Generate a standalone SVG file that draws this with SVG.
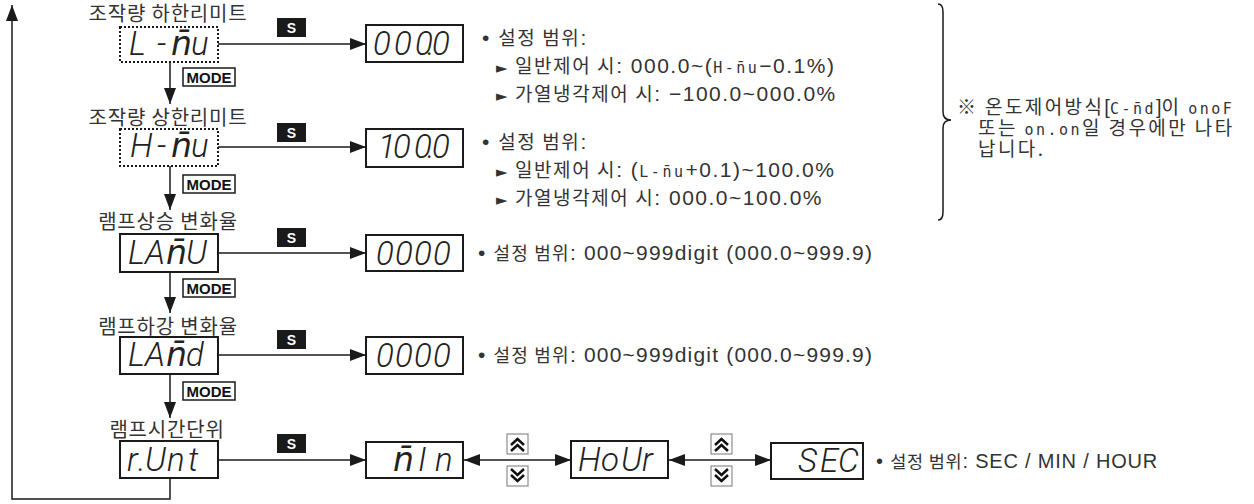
<svg xmlns="http://www.w3.org/2000/svg" width="1254" height="504" viewBox="0 0 1254 504">
<defs>
<marker id="ah" viewBox="0 0 16 12" refX="16" refY="6" markerWidth="16" markerHeight="12" markerUnits="userSpaceOnUse" orient="auto-start-reverse"><path d="M0,0 L16,6 L0,12 z" fill="#1a1a1a"/></marker>
</defs>
<style>
.ln{fill:none;stroke:#1a1a1a;stroke-width:1.5}
.box{fill:#fff;stroke:#1a1a1a;stroke-width:2}
.dot{fill:#fff;stroke:#1a1a1a;stroke-width:2;stroke-dasharray:2 2}
.lab{font-family:"Noto Sans CJK KR",sans-serif;font-size:20px;letter-spacing:0.8px;fill:#333;text-anchor:middle}
.seg{font-family:Roboto,"DejaVu Sans",sans-serif;font-style:italic;font-weight:300;font-size:33px;fill:#222}
.sbg{fill:#1a1a1a}
.st{font-family:"Liberation Sans",sans-serif;font-weight:bold;font-size:14px;fill:#fff;text-anchor:middle}
.mb{fill:#fff;stroke:#1a1a1a;stroke-width:1.5}
.mt{font-family:"Liberation Sans",sans-serif;font-weight:bold;font-size:15px;fill:#111;text-anchor:middle}
.d{font-family:"Liberation Sans","Noto Sans CJK KR",sans-serif;font-size:21px;letter-spacing:1.5px;fill:#333}
.d3{font-family:"Liberation Sans","Noto Sans CJK KR",sans-serif;font-size:21px;letter-spacing:1.2px;fill:#333}
.k{font-family:"Noto Sans CJK KR",sans-serif;font-size:19px;letter-spacing:1.6px}
.k3{font-family:"Noto Sans CJK KR",sans-serif;font-size:18px;letter-spacing:1.2px}
.db{font-family:"Liberation Sans","Noto Sans CJK KR",sans-serif;font-size:20px;letter-spacing:0.8px;fill:#333}
.kb{font-family:"Noto Sans CJK KR",sans-serif;font-size:17.5px;letter-spacing:0.8px}
.dn{font-family:"Liberation Sans","Noto Sans CJK KR",sans-serif;font-size:20px;fill:#333}
.kn{font-family:"Noto Sans CJK KR",sans-serif;font-size:19px;letter-spacing:2.4px}
.ss{font-family:"DejaVu Sans Mono",monospace;font-size:15px;letter-spacing:2.5px}
.btn{fill:#fff;stroke:#777;stroke-width:1}
.chev{fill:none;stroke:#111;stroke-width:2.5}
.ar{font-family:"DejaVu Sans",sans-serif;font-size:15px;letter-spacing:0}
</style>

<g id="connectors">
<path class="ln" d="M170,478 V499 H12 V5" marker-end="url(#ah)"/>
<line class="ln" x1="170" y1="62" x2="170" y2="104" marker-end="url(#ah)"/>
<line class="ln" x1="170" y1="166" x2="170" y2="210" marker-end="url(#ah)"/>
<line class="ln" x1="170" y1="272" x2="170" y2="313" marker-end="url(#ah)"/>
<line class="ln" x1="170" y1="374" x2="170" y2="418" marker-end="url(#ah)"/>
<line class="ln" x1="218" y1="44" x2="366" y2="44" marker-end="url(#ah)"/>
<line class="ln" x1="218" y1="147" x2="366" y2="147" marker-end="url(#ah)"/>
<line class="ln" x1="218" y1="253" x2="366" y2="253" marker-end="url(#ah)"/>
<line class="ln" x1="218" y1="355" x2="366" y2="355" marker-end="url(#ah)"/>
<line class="ln" x1="218" y1="460" x2="366" y2="460" marker-end="url(#ah)"/>
<line class="ln" x1="464" y1="460" x2="571" y2="460" marker-start="url(#ah)" marker-end="url(#ah)"/>
<line class="ln" x1="669" y1="460" x2="771" y2="460" marker-start="url(#ah)" marker-end="url(#ah)"/>
<g id="s-labels">
<rect class="sbg" x="277" y="18" width="29" height="19"/><text class="st" x="291.5" y="33">S</text>
<rect class="sbg" x="277" y="123" width="29" height="19"/><text class="st" x="291.5" y="138">S</text>
<rect class="sbg" x="277" y="228" width="29" height="19"/><text class="st" x="291.5" y="243">S</text>
<rect class="sbg" x="277" y="330" width="29" height="19"/><text class="st" x="291.5" y="345">S</text>
<rect class="sbg" x="277" y="434" width="29" height="19"/><text class="st" x="291.5" y="449">S</text>
</g>
<g id="mode-labels">
<rect class="mb" x="183" y="68" width="52" height="18"/><text class="mt" x="209" y="82.5">MODE</text>
<rect class="mb" x="183" y="175" width="52" height="18"/><text class="mt" x="209" y="189.5">MODE</text>
<rect class="mb" x="183" y="279" width="52" height="18"/><text class="mt" x="209" y="293.5">MODE</text>
<rect class="mb" x="183" y="382" width="52" height="18"/><text class="mt" x="209" y="396.5">MODE</text>
</g>
<g id="updown-1">
<rect class="btn" x="507" y="434" width="21" height="20"/>
<path class="chev" d="M511,445 L517.5,439 L524,445 M511,451 L517.5,445 L524,451"/>
<rect class="btn" x="507" y="466" width="21" height="20"/>
<path class="chev" d="M511,469 L517.5,475 L524,469 M511,475 L517.5,481 L524,475"/>
</g>
<g id="updown-2">
<rect class="btn" x="711" y="434" width="21" height="20"/>
<path class="chev" d="M715,445 L721.5,439 L728,445 M715,451 L721.5,445 L728,451"/>
<rect class="btn" x="711" y="466" width="21" height="20"/>
<path class="chev" d="M715,469 L721.5,475 L728,469 M715,475 L721.5,481 L728,475"/>
</g>
</g>

<g id="node-lmv">
<text class="lab" x="168" y="21">조작량 하한리미트</text>
<rect class="dot" x="120" y="27" width="98" height="35"/>
<text class="seg" y="55"><tspan x="129">L</tspan><tspan x="157">-</tspan><tspan x="171">n̄</tspan><tspan x="191">u</tspan></text>
</g>
<g id="node-hmv">
<text class="lab" x="168" y="125">조작량 상한리미트</text>
<rect class="dot" x="120" y="129" width="98" height="37"/>
<text class="seg" y="157"><tspan x="130">H</tspan><tspan x="157">-</tspan><tspan x="171">n̄</tspan><tspan x="191">u</tspan></text>
</g>
<g id="node-ramu">
<text class="lab" x="168" y="229">램프상승 변화율</text>
<rect class="box" x="120" y="234" width="98" height="38"/>
<text class="seg" y="264"><tspan x="128">L</tspan><tspan x="145">A</tspan><tspan x="166">n̄</tspan><tspan x="186">U</tspan></text>
</g>
<g id="node-ramd">
<text class="lab" x="168" y="334">램프하강 변화율</text>
<rect class="box" x="120" y="337" width="98" height="37"/>
<text class="seg" y="366"><tspan x="128">L</tspan><tspan x="145">A</tspan><tspan x="166">n̄</tspan><tspan x="186">d</tspan></text>
</g>
<g id="node-runt">
<text class="lab" x="167" y="437">램프시간단위</text>
<rect class="box" x="120" y="441" width="98" height="37"/>
<text class="seg" y="471" x="127 138 145 167 188">r.Unt</text>
</g>

<g id="disp-lmv">
<rect class="box" x="366" y="25" width="97" height="37"/>
<text class="seg" y="55" x="373 394 415 427 432">000.0</text>
</g>
<g id="disp-hmv">
<rect class="box" x="366" y="129" width="97" height="38"/>
<text class="seg" y="158" x="378 393 414 427 432">100.0</text>
</g>
<g id="disp-ramu">
<rect class="box" x="366" y="235" width="97" height="36"/>
<text class="seg" y="265" x="376 395 414 433">0000</text>
</g>
<g id="disp-ramd">
<rect class="box" x="366" y="337" width="97" height="37"/>
<text class="seg" y="367" x="376 395 414 433">0000</text>
</g>
<g id="disp-min">
<rect class="box" x="366" y="442" width="97" height="36"/>
<text class="seg" y="471"><tspan x="393">n̄</tspan><tspan x="418">I</tspan><tspan x="435">n</tspan></text>
</g>
<g id="disp-hour">
<rect class="box" x="571" y="441" width="97" height="37"/>
<text class="seg" y="471" x="578 601 621 642">HoUr</text>
</g>
<g id="disp-sec">
<rect class="box" x="771" y="443" width="92" height="36"/>
<text class="seg" y="472" x="798 820 838">SEC</text>
</g>

<g id="desc-lmv">
<text class="d" x="482" y="45">• <tspan class="k">설정 범위</tspan>:</text>
<text class="d" x="496" y="73"><tspan class="ar">►</tspan> <tspan class="k">일반제어 시</tspan>: 000.0~(<tspan class="ss">H-n̄u</tspan>−0.1%)</text>
<text class="d" x="496" y="101"><tspan class="ar">►</tspan> <tspan class="k">가열냉각제어 시</tspan>: −100.0~000.0%</text>
</g>
<g id="desc-hmv">
<text class="d" x="482" y="149">• <tspan class="k">설정 범위</tspan>:</text>
<text class="d" x="496" y="177"><tspan class="ar">►</tspan> <tspan class="k">일반제어 시</tspan>: (<tspan class="ss">L-n̄u</tspan>+0.1)~100.0%</text>
<text class="d" x="496" y="205"><tspan class="ar">►</tspan> <tspan class="k">가열냉각제어 시</tspan>: 000.0~100.0%</text>
</g>
<g id="desc-ramu">
<text class="d3" x="478" y="260">• <tspan class="k3">설정 범위</tspan>: 000~999digit (000.0~999.9)</text>
</g>
<g id="desc-ramd">
<text class="d3" x="478" y="362">• <tspan class="k3">설정 범위</tspan>: 000~999digit (000.0~999.9)</text>
</g>
<g id="desc-runt">
<text class="db" x="876" y="468">• <tspan class="kb">설정 범위</tspan>: SEC / MIN / HOUR</text>
</g>

<g id="note">
<path class="ln" d="M938,4 Q943,4 943,12 L943,112 Q943,120 951,120 Q943,120 943,128 L943,212 Q943,220 938,220"/>
<text class="dn" x="957" y="114"><tspan class="kn">※ 온도제어방식</tspan>[<tspan class="ss">C-n̄d</tspan>]<tspan class="kn">이 </tspan><tspan class="ss">onoF</tspan></text>
<text class="dn" x="978" y="135"><tspan class="kn">또는 </tspan><tspan class="ss">on.on</tspan><tspan class="kn">일 경우에만 나타</tspan></text>
<text class="dn" x="978" y="156"><tspan class="kn">납니다.</tspan></text>
</g>
</svg>
